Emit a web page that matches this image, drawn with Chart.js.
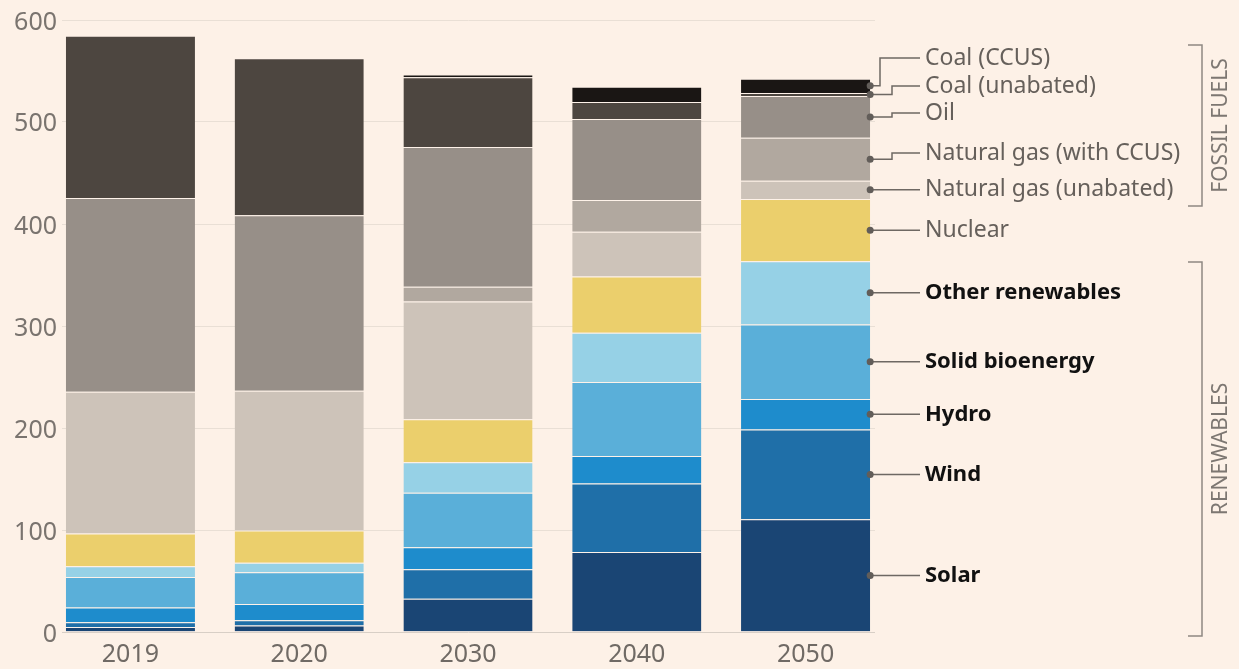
<!DOCTYPE html>
<html>
<head>
<meta charset="utf-8">
<script src="https://cdn.jsdelivr.net/npm/chart.js@4"></script>
<style>
  html, body { margin: 0; padding: 0; background: #fdf1e7; }
  #wrap { width: 1239px; height: 669px; }
</style>
</head>
<body>
<div id="wrap"><canvas id="energy-chart" width="1239" height="669"></canvas></div>
<script>
// years on the x axis and y axis ticks
var years = ['2019', '2020', '2030', '2040', '2050'];
var yTicks = [0, 100, 200, 300, 400, 500, 600];

// values, stacked bottom to top
var solar        = [4.5, 6, 32, 78, 110];
var wind         = [4.5, 5, 29, 67, 88];
var hydro        = [14.5, 16, 21.5, 27, 30];
var solidBio     = [30, 31, 53.5, 72.5, 73];
var otherRen     = [10.5, 9.5, 30, 48.5, 62];
var nuclear      = [32, 31.5, 42, 55, 61];
var gasUnabated  = [139, 137, 115.5, 44, 18];
var gasCCUS      = [null, null, 14.5, 31, 42];
var oil          = [190, 172, 137, 79.5, 41];
var coalUnabated = [159, 154, 68.5, 16.5, 3];
var coalCCUS     = [null, null, 2.5, 15, 14];

var seriesNames = ['Solar', 'Wind', 'Hydro', 'Solid bioenergy', 'Other renewables', 'Nuclear',
  'Natural gas (unabated)', 'Natural gas (with CCUS)', 'Oil', 'Coal (unabated)', 'Coal (CCUS)'];
var seriesData = [solar, wind, hydro, solidBio, otherRen, nuclear, gasUnabated, gasCCUS, oil, coalUnabated, coalCCUS];
var seriesColors = ['#1a4574', '#1f6fa8', '#1e8ccc', '#5aafd9', '#96d1e6', '#ebcf6c',
  '#cdc3b9', '#b1a89f', '#978f88', '#4d4640', '#1a1614'];

// label placement on the right (text y, and x of the elbow for the crowded ones)
var labelY = [577, 475, 413, 361, 295, 229, 190, 153, 113, 86, 58];
var elbowX = [null, null, null, null, null, null, null, 892, 892, 892, 880];
var boldLabel = [true, true, true, true, true, false, false, false, false, false, false];

var ctx = document.getElementById('energy-chart').getContext('2d');

var decor = {
  id: 'decor',
  beforeDatasetsDraw: function(chart) {
    var c = chart.ctx, y = chart.scales.y;
    c.save();
    yTicks.forEach(function(t) {
      var py = Math.round(y.getPixelForValue(t)) + 0.5;
      c.strokeStyle = t === 0 ? '#d8cfc6' : '#e9dfd5';
      c.lineWidth = 1;
      c.beginPath(); c.moveTo(62, py); c.lineTo(875, py); c.stroke();
      c.fillStyle = '#7a746f';
      c.font = '25px "Noto Sans"';
      c.textAlign = 'right'; c.textBaseline = 'middle';
      c.fillText(String(t), 57, py + 2);
    });
    c.restore();
  },
  afterDraw: function(chart) {
    var c = chart.ctx, x = chart.scales.x;
    c.save();
    c.fillStyle = '#706a65';
    c.font = '25px "Noto Sans"';
    c.textAlign = 'center'; c.textBaseline = 'middle';
    years.forEach(function(yr, i) { c.fillText(yr, x.getPixelForValue(i), 655); });

    // leader lines and labels, from the 2050 bar
    var last = years.length - 1;
    seriesNames.forEach(function(name, i) {
      var bar = chart.getDatasetMeta(i).data[last];
      var dx = bar.x + bar.width / 2;
      var dy = (bar.y + bar.base) / 2;
      var ly = labelY[i];
      c.strokeStyle = '#6e6863'; c.lineWidth = 1.5;
      c.beginPath();
      c.moveTo(dx, dy);
      if (elbowX[i] !== null) {
        c.lineTo(elbowX[i], dy); c.lineTo(elbowX[i], ly);
      } else {
        ly = dy;
      }
      c.lineTo(920, ly);
      c.stroke();
      c.fillStyle = '#625d59';
      c.beginPath(); c.arc(dx, dy, 3.5, 0, Math.PI * 2); c.fill();
      c.textAlign = 'left'; c.textBaseline = 'middle';
      if (boldLabel[i]) {
        c.font = 'bold 22px "Noto Sans"'; c.fillStyle = '#111';
      } else {
        c.font = '23px "Noto Sans"'; c.fillStyle = '#66605b';
      }
      c.fillText(name, 925, ly);
    });

    // group brackets
    function bracket(top, bottom, text) {
      c.strokeStyle = '#8e8883'; c.lineWidth = 1.5;
      c.beginPath();
      c.moveTo(1188, top); c.lineTo(1202, top); c.lineTo(1202, bottom); c.lineTo(1188, bottom);
      c.stroke();
      c.save();
      c.translate(1221, (top + bottom) / 2);
      c.rotate(-Math.PI / 2);
      c.fillStyle = '#7d7772';
      c.font = '21px "Noto Sans"';
      c.textAlign = 'center'; c.textBaseline = 'middle';
      c.fillText(text, 0, 0);
      c.restore();
    }
    bracket(45, 206, 'FOSSIL FUELS');
    bracket(262, 636, 'RENEWABLES');
    c.restore();
  }
};

var chart = new Chart(ctx, {
  type: 'bar',
  data: {
    labels: years,
    datasets: seriesNames.map(function(name, i) {
      return {
        label: name,
        data: seriesData[i],
        backgroundColor: seriesColors[i],
        borderColor: 'rgba(255,245,235,0.45)',
        borderWidth: { top: 1, bottom: 0, left: 0, right: 0 },
        borderSkipped: false,
        barPercentage: 0.765,
        categoryPercentage: 1
      };
    })
  },
  options: {
    responsive: false,
    animation: false,
    devicePixelRatio: 1,
    layout: { padding: { left: 46, right: 349, top: 19.5, bottom: 37.5 } },
    plugins: { legend: { display: false }, tooltip: { enabled: false } },
    scales: {
      x: { stacked: true, display: false },
      y: { stacked: true, display: false, min: 0, max: 600 }
    }
  },
  plugins: [decor]
});
</script>
</body>
</html>
